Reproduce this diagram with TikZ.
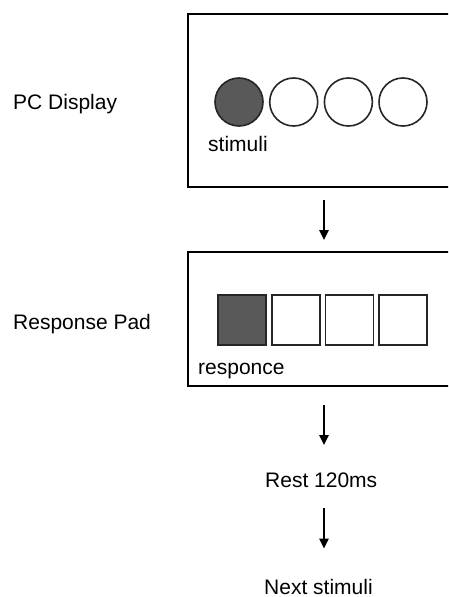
\documentclass[tikz,border=0pt]{standalone}
\usepackage{fontspec}
\setmainfont{Liberation Sans}
\usetikzlibrary{arrows.meta, positioning}

\begin{document}
\begin{tikzpicture}[
    x=1pt, y=-1pt,
    every node/.style={font=\fontsize{21}{25}\selectfont, inner sep=0pt},
    panel/.style={draw=black, line width=2.8pt, anchor=north west, outer sep=0pt, minimum width=272pt},
    lamp/.style={circle, draw=black!85, line width=1.6pt, minimum size=48pt},
    key/.style={rectangle, draw=black!85, line width=1.6pt, minimum width=48pt, minimum height=50pt},
    flow/.style={-{Triangle[width=9pt,length=10pt]}, line width=2.4pt}
]
\useasboundingbox (0,0) rectangle (448,597);
\clip (0,0) rectangle (448,597);

% Boxes
\node[panel, minimum height=173pt] (display) at (188,14) {};
\node[panel, minimum height=134pt] (padbox) at (188,252) {};

% Lamps and keys
\foreach \i/\xc/\tone in {1/239/black!65, 2/293.7/white, 3/348.4/white, 4/403/white}
    \node[lamp, fill=\tone] (lamp\i) at (\xc,102) {};
\foreach \i/\xc/\tone in {1/242/black!65, 2/295.7/white, 3/349.3/white, 4/403/white}
    \node[key, fill=\tone] (key\i) at (\xc,320) {};

% Labels
\node[anchor=base west] (stimuli) at (208,151) {stimuli};
\node[anchor=base west] (responce) at (198,374) {responce};
\node[anchor=base west] (pclabel) at (13,109) {PC Display};
\node[anchor=base west] (padlabel) at (13,329) {Response Pad};
\node[anchor=base west] (rest) at (265,487) {Rest 120ms};
\node[anchor=base west] (next) at (264,594) {Next stimuli};

% Arrows
\draw[flow, shorten <=13pt, shorten >=12pt] (display.south) -- (padbox.north);
\draw[flow, shorten <=19pt, shorten >=27pt] (padbox.south) -- (padbox.south |- rest.north);
\draw[flow, shorten <=21pt, shorten >=30pt] (padbox.south |- rest.south) -- (padbox.south |- next.north);
\end{tikzpicture}
\end{document}
